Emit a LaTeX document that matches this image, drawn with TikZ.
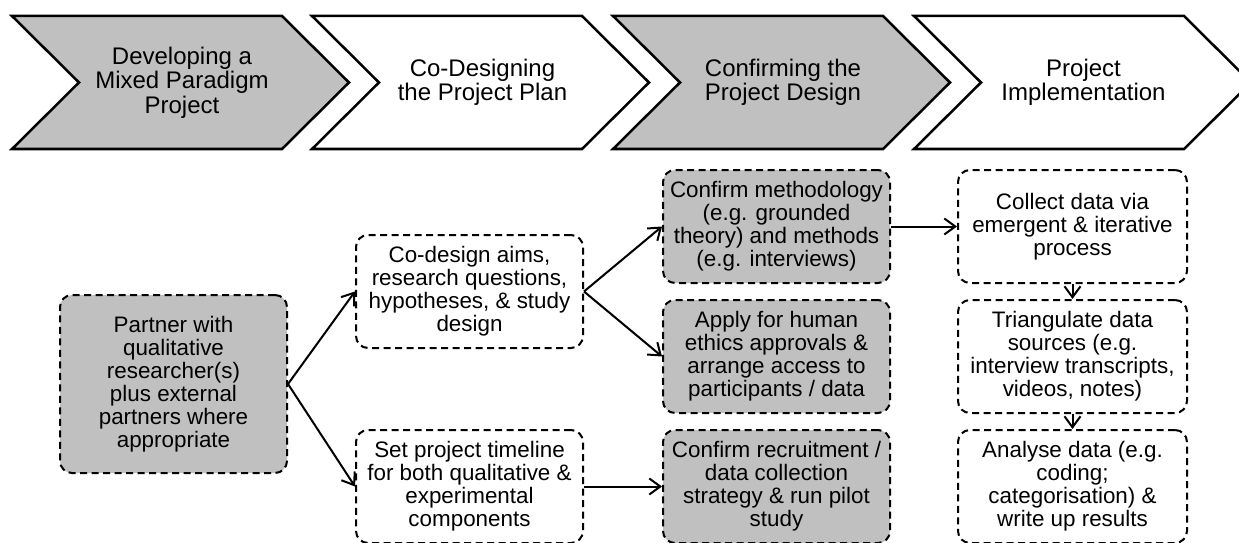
\documentclass[tikz,border=0pt]{standalone}
\usepackage{fontspec}
\setmainfont{Liberation Sans}
\usepackage{tikz}
\usetikzlibrary{arrows.meta}
\definecolor{stagegray}{RGB}{192,192,192}

\begin{document}
\begin{tikzpicture}[x=1pt,y=1pt,>={Straight Barb[length=11pt,width=16pt]},line width=2pt,node distance=130pt]
 \tikzstyle{every node}=[font=\fontsize{22.4}{23}\selectfont]
 \tikzstyle{chevron}=[draw,line width=2.5pt,line join=miter]
 \tikzstyle{stage}=[align=center,font=\fontsize{24}{24.5}\selectfont]
 \tikzstyle{task}=[draw,dash pattern=on 7pt off 4.5pt,line width=2pt,rounded corners=12pt,minimum width=227pt,minimum height=113pt,align=center,inner sep=2pt]
 \tikzstyle{grey task}=[task,fill=stagegray]
 \clip (0,0) rectangle (1239,542);
 % stages
 \draw[chevron,fill=stagegray] (12,526) -- ++(270,0) -- ++(67,-66.5) -- ++(-67,-66.5) -- ++(-270,0) -- ++(67,66.5) -- cycle;
 \draw[chevron,fill=white] (312,526) -- ++(270,0) -- ++(67,-66.5) -- ++(-67,-66.5) -- ++(-270,0) -- ++(67,66.5) -- cycle;
 \draw[chevron,fill=stagegray] (613,526) -- ++(270,0) -- ++(67,-66.5) -- ++(-67,-66.5) -- ++(-270,0) -- ++(67,66.5) -- cycle;
 \draw[chevron,fill=white] (914,526) -- ++(270,0) -- ++(67,-66.5) -- ++(-67,-66.5) -- ++(-270,0) -- ++(67,66.5) -- cycle;
   \node[stage] (develop) at (182,459.5) {Developing a\\Mixed Paradigm\\Project};
   \node[stage] (plan) [right of = develop, node distance=300.5pt] {Co-Designing\\the Project Plan};
   \node[stage] (design) [right of = plan, node distance=300.5pt] {Confirming the\\Project Design};
   \node[stage] (implement) [right of = design, node distance=300.5pt] {Project\\Implementation};
 % tasks
   \node[grey task,minimum height=178pt] (partner) at (173.5,158) {Partner with\\qualitative\\researcher(s)\\plus external\\partners where\\appropriate};
   \node[task] (codesign) at (469.5,250.5) {Co-design aims,\\research questions,\\hypotheses, \& study\\design};
   \node[task] (timeline) at (469.5,55.5) {Set project timeline\\for both qualitative \&\\experimental\\components};
   \node[grey task] (method) at (776.5,315.5) {Confirm methodology\\(e.g. grounded\\theory) and methods\\(e.g. interviews)};
   \node[grey task] (ethics) [below of = method] {Apply for human\\ethics approvals \&\\arrange access to\\participants / data};
   \node[grey task] (recruit) [below of = ethics] {Confirm recruitment /\\data collection\\strategy \& run pilot\\study};
   \node[task,minimum width=229pt] (collect) [right of = method, node distance=296pt] {Collect data via\\emergent \& iterative\\process};
   \node[task,minimum width=229pt] (triang) [below of = collect] {Triangulate data\\sources (e.g.\\interview transcripts,\\videos, notes)};
   \node[task,minimum width=229pt] (analyse) [below of = triang] {Analyse data (e.g.\\coding;\\categorisation) \&\\write up results};
    \path[->]
    (partner.east) edge (codesign.west)
    (partner.east) edge (timeline.west)
    (codesign.east) edge (method.west)
    (codesign.east) edge (ethics.west)
    (timeline.east) edge (recruit.west)
    (method.east) edge (collect.west)
    (collect) edge (triang)
    (triang) edge (analyse);
\end{tikzpicture}
\end{document}
